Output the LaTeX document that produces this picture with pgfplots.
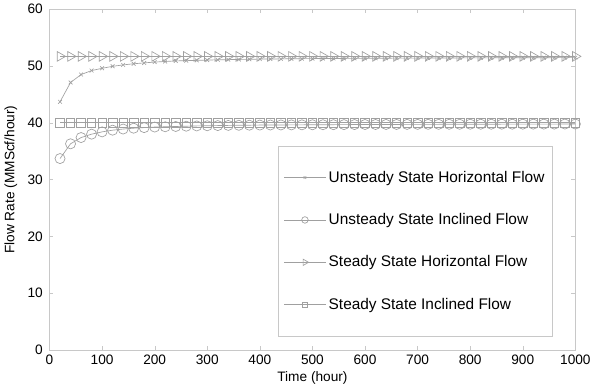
\documentclass[border=0pt]{standalone}
\usepackage{pgfplots}
\pgfplotsset{compat=1.18}
\usepackage{fontspec}
\setmainfont{Liberation Sans}
\definecolor{ln}{RGB}{160,160,160}
\definecolor{ax}{RGB}{200,200,200}
\begin{document}
\begin{tikzpicture}
\begin{axis}[
  scale only axis, width=396pt, height=256.5pt,
  xmin=0, xmax=1000, ymin=0, ymax=60,
  xtick={0,100,...,1000}, ytick={0,10,...,60},
  tick align=inside, major tick length=3pt,
  axis line style={ax}, tick style={ax},
  every tick label/.append style={font=\fontsize{10.3}{12}\selectfont},
  yticklabel style={xshift=-1.5pt},
  /pgf/number format/assume math mode=true,
  /pgf/number format/1000 sep={},
  xlabel={Time (hour)}, ylabel={Flow Rate (MMScf/hour)},
  label style={font=\fontsize{10.3}{12}\selectfont},
  xlabel shift=-1pt, ylabel shift=1pt,
  legend style={at={(0.435,0.60)}, anchor=north west, draw=ax,
    font=\fontsize{11.6}{13}\selectfont, row sep=18pt, inner xsep=4pt, inner ysep=17pt},
  legend cell align=left,
  legend image code/.code={\draw[mark repeat=2,mark phase=2, every mark/.append style={scale=0.65}] plot coordinates {(0cm,0cm) (0.55cm,0cm) (1.1cm,0cm)};},
  every axis plot/.append style={ln, line width=0.5pt},
]
\addplot[mark=x, mark size=2pt] coordinates {
(20,43.7)(40,47.1)(60,48.5)(80,49.2)(100,49.6)(120,49.95)(140,50.2)(160,50.4)(180,50.55)(200,50.7)
(220,50.8)(240,50.9)(260,50.95)(280,51.0)(300,51.05)(320,51.1)(340,51.13)(360,51.16)(380,51.19)(400,51.22)
(420,51.24)(440,51.26)(460,51.28)(480,51.3)(500,51.31)(520,51.32)(540,51.33)(560,51.34)(580,51.35)(600,51.36)
(620,51.37)(640,51.38)(660,51.39)(680,51.4)(700,51.4)(720,51.41)(740,51.42)(760,51.42)(780,51.43)(800,51.43)
(820,51.44)(840,51.44)(860,51.45)(880,51.45)(900,51.46)(920,51.46)(940,51.47)(960,51.47)(980,51.48)(1000,51.48)};
\addlegendentry{Unsteady State Horizontal Flow}
\addplot[mark=o, mark size=3.8pt] coordinates {
(20,33.7)(40,36.3)(60,37.4)(80,38.0)(100,38.4)(120,38.7)(140,38.9)(160,39.05)(180,39.15)(200,39.25)
(220,39.3)(240,39.35)(260,39.4)(280,39.45)(300,39.48)(320,39.51)(340,39.54)(360,39.56)(380,39.58)(400,39.6)
(420,39.61)(440,39.62)(460,39.63)(480,39.64)(500,39.65)(520,39.66)(540,39.67)(560,39.68)(580,39.69)(600,39.7)
(620,39.7)(640,39.71)(660,39.71)(680,39.72)(700,39.72)(720,39.73)(740,39.73)(760,39.74)(780,39.74)(800,39.75)
(820,39.75)(840,39.75)(860,39.76)(880,39.76)(900,39.76)(920,39.77)(940,39.77)(960,39.77)(980,39.78)(1000,39.78)};
\addlegendentry{Unsteady State Inclined Flow}
\addplot[mark=triangle, mark options={rotate=-90}, mark size=4.2pt] coordinates {
(20,51.7)(40,51.7)(60,51.7)(80,51.7)(100,51.7)(120,51.7)(140,51.7)(160,51.7)(180,51.7)(200,51.7)
(220,51.7)(240,51.7)(260,51.7)(280,51.7)(300,51.7)(320,51.7)(340,51.7)(360,51.7)(380,51.7)(400,51.7)
(420,51.7)(440,51.7)(460,51.7)(480,51.7)(500,51.7)(520,51.7)(540,51.7)(560,51.7)(580,51.7)(600,51.7)
(620,51.7)(640,51.7)(660,51.7)(680,51.7)(700,51.7)(720,51.7)(740,51.7)(760,51.7)(780,51.7)(800,51.7)
(820,51.7)(840,51.7)(860,51.7)(880,51.7)(900,51.7)(920,51.7)(940,51.7)(960,51.7)(980,51.7)(1000,51.7)};
\addlegendentry{Steady State Horizontal Flow}
\addplot[mark=square, mark size=3.2pt] coordinates {
(20,40)(40,40)(60,40)(80,40)(100,40)(120,40)(140,40)(160,40)(180,40)(200,40)
(220,40)(240,40)(260,40)(280,40)(300,40)(320,40)(340,40)(360,40)(380,40)(400,40)
(420,40)(440,40)(460,40)(480,40)(500,40)(520,40)(540,40)(560,40)(580,40)(600,40)
(620,40)(640,40)(660,40)(680,40)(700,40)(720,40)(740,40)(760,40)(780,40)(800,40)
(820,40)(840,40)(860,40)(880,40)(900,40)(920,40)(940,40)(960,40)(980,40)(1000,40)};
\addlegendentry{Steady State Inclined Flow}
\end{axis}
\end{tikzpicture}
\end{document}
